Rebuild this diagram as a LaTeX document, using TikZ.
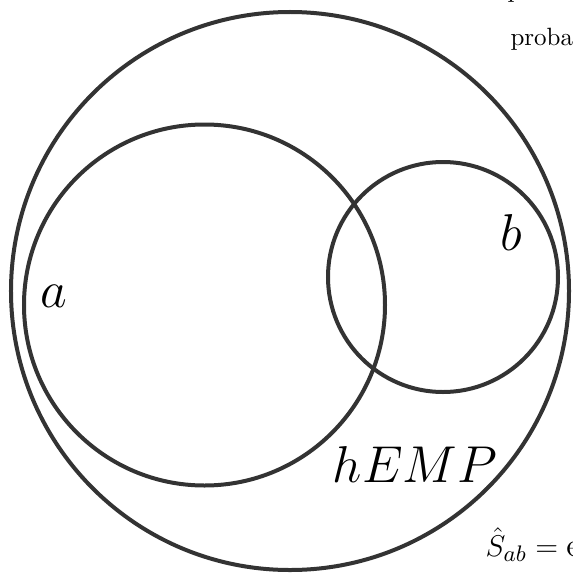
\documentclass[tikz,border=0pt]{standalone}
\usepackage{amsmath,amssymb}
\usepackage{tikz}
\usetikzlibrary{positioning, calc}
\usepackage{xcolor}
\definecolor{setline}{RGB}{51,51,51}

\tikzset{
  setcirc/.style={circle, draw=setline, line width=1.6pt, inner sep=0pt},
  setlabel/.style={font=\fontsize{22}{26}\selectfont, inner sep=0pt, anchor=base west},
  cuttext/.style={font=\normalsize, inner sep=0pt, anchor=base west}
}

\begin{document}
\begin{tikzpicture}[x=0.4pt, y=-0.4pt]
  \useasboundingbox (0,0) rectangle (573,574);
  \clip (0,0) rectangle (573,574);
  % the three sets
  \node[setcirc, minimum size=223.2pt] (outer) at (290,291) {};
  \node[setcirc, minimum size=144.4pt] (seta) at (204.5,305) {};
  \node[setcirc, minimum size=92pt] (setb) at (443,277) {};
  % set names
  \node[setlabel] (lbla) at (40,307) {$a$};
  \node[setlabel] (lblb) at (500,250) {$b$};
  \node[setlabel, anchor=base] (lblemp) at (415,482) {$hEMP$};
  % text of the page, cut off at the edges
  \node[cuttext] (txttop) at (507,-3) {p};
  \node[cuttext] (txtprob) at (510,45) {proba};
  \node[cuttext, font=\fontsize{13}{15}\selectfont] (txtshat) at (485,556) {$\hat{S}_{ab} = {}$e};
\end{tikzpicture}
\end{document}
